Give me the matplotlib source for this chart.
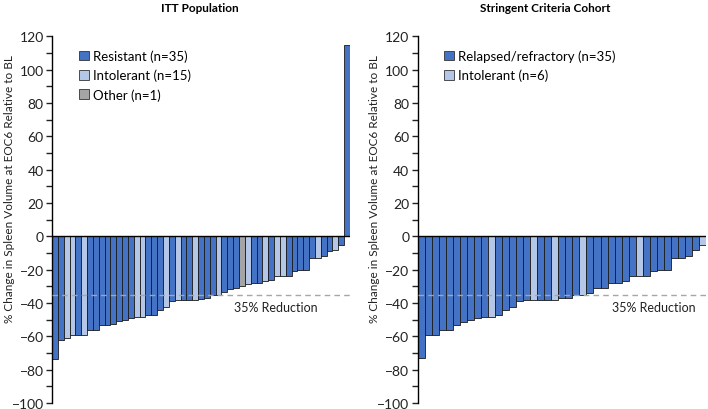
import matplotlib
matplotlib.use("Agg")
import matplotlib.pyplot as plt
from matplotlib.patches import Patch
from matplotlib.ticker import MultipleLocator

plt.rcParams['font.family'] = ['Lato', 'DejaVu Sans']

# ITT population: % change per patient, sorted; group of each bar
itt_values = [-73.5, -62, -61, -59.5, -59.5, -59.5, -56.5, -56.5, -53.5, -53.5,
              -52.5, -51, -50, -49, -48.5, -48.5, -47.5, -47.5, -44.5, -42.5,
              -39, -38, -38, -38, -38, -37.5, -37, -35.5, -35, -33.5,
              -31.5, -31, -30, -28.5, -28, -28, -27, -26, -24, -24,
              -24, -21, -20, -20, -13, -13, -12, -9, -8, -5.5,
              115]
itt_groups = ['R', 'R', 'I', 'I', 'R', 'I', 'R', 'R', 'R', 'R',
              'R', 'R', 'R', 'R', 'I', 'I', 'R', 'R', 'R', 'I',
              'R', 'I', 'R', 'R', 'I', 'R', 'R', 'R', 'I', 'R',
              'R', 'R', 'O', 'I', 'R', 'R', 'I', 'R', 'I', 'I',
              'R', 'R', 'R', 'R', 'R', 'I', 'R', 'R', 'I', 'R',
              'R']

# Stringent criteria cohort
sc_values = [-73, -59.5, -59.5, -56.5, -56.5, -53.5, -51.5, -50.5, -49, -48.5,
             -48.5, -47.5, -44.5, -42.5, -39, -38, -38, -38, -38, -38,
             -37, -37, -35, -35, -34, -31, -31, -28, -28, -27,
             -24, -24, -24, -21, -20, -20, -13, -13, -12, -8,
             -5]
sc_groups = ['R', 'R', 'R', 'R', 'R', 'R', 'R', 'R', 'R', 'R',
             'I', 'R', 'R', 'R', 'R', 'R', 'I', 'R', 'R', 'I',
             'R', 'R', 'R', 'I', 'R', 'R', 'R', 'R', 'R', 'R',
             'R', 'I', 'R', 'R', 'R', 'R', 'R', 'R', 'R', 'R',
             'I']

itt_labels = {'R': 'Resistant (n=35)', 'I': 'Intolerant (n=15)', 'O': 'Other (n=1)'}
sc_labels = {'R': 'Relapsed/refractory (n=35)', 'I': 'Intolerant (n=6)'}
colors = {'R': '#4472C4', 'I': '#B4C7E7', 'O': '#A5A5A5'}

threshold = -35
ylabel = '% Change in Spleen Volume at EOC6 Relative to BL'

fig = plt.figure(figsize=(7.08, 4.10), dpi=100)
ax1 = fig.add_axes([52 / 708, 6 / 410, 298 / 708, 366.7 / 410])
ax2 = fig.add_axes([417.7 / 708, 6 / 410, 288.3 / 708, 366.7 / 410])


def draw(ax, values, groups, labels, text_x, ylab_x):
    n = len(values)
    x = list(range(n))
    ax.bar(x, values, width=1.0, color=[colors[g] for g in groups],
           edgecolor='#1a1a1a', linewidth=0.6, zorder=2)
    ax.set_xlim(-0.5, n - 0.5)
    ax.set_ylim(-100, 120)
    ax.axhline(0, color='black', linewidth=1.0, zorder=3)
    ax.axhline(threshold, color='#A6A6A6', linewidth=1.0, linestyle=(0, (4, 3)), zorder=4)
    ax.text(text_x, threshold - 7.5, '35% Reduction', ha='right', va='center', fontsize=9,
            color='#222222')
    for s in ['top', 'right', 'bottom']:
        ax.spines[s].set_visible(False)
    ax.spines['left'].set_linewidth(1.0)
    ax.yaxis.set_major_locator(MultipleLocator(20))
    ax.yaxis.set_minor_locator(MultipleLocator(10))
    ax.tick_params(axis='y', which='both', direction='out', length=4, width=1.0,
                   labelsize=10, pad=2, colors='#222222')
    ax.tick_params(axis='x', bottom=False, labelbottom=False)
    handles = [Patch(facecolor=colors[k], edgecolor='#333333', linewidth=0.6, label=labels[k])
               for k in labels]
    ax.legend(handles=handles, loc='upper left', bbox_to_anchor=(0.065, 0.985), frameon=False,
              fontsize=9.5, handlelength=0.75, handleheight=0.75, handletextpad=0.3,
              labelspacing=0.5, borderaxespad=0.2)
    fig.text(ylab_x, 221 / 410, ylabel, rotation=90, ha='center', va='center', fontsize=8.5,
             color='#222222')


draw(ax1, itt_values, itt_groups, itt_labels, 45, 10 / 708)
draw(ax2, sc_values, sc_groups, sc_labels, 39, 375 / 708)
fig.text(200 / 708, 1 - 9 / 410, 'ITT Population', ha='center', va='center', fontsize=8.5,
         fontweight='bold')
fig.text(545 / 708, 1 - 9 / 410, 'Stringent Criteria Cohort', ha='center', va='center',
         fontsize=8.5, fontweight='bold')

fig.savefig('out.png', dpi=100)
